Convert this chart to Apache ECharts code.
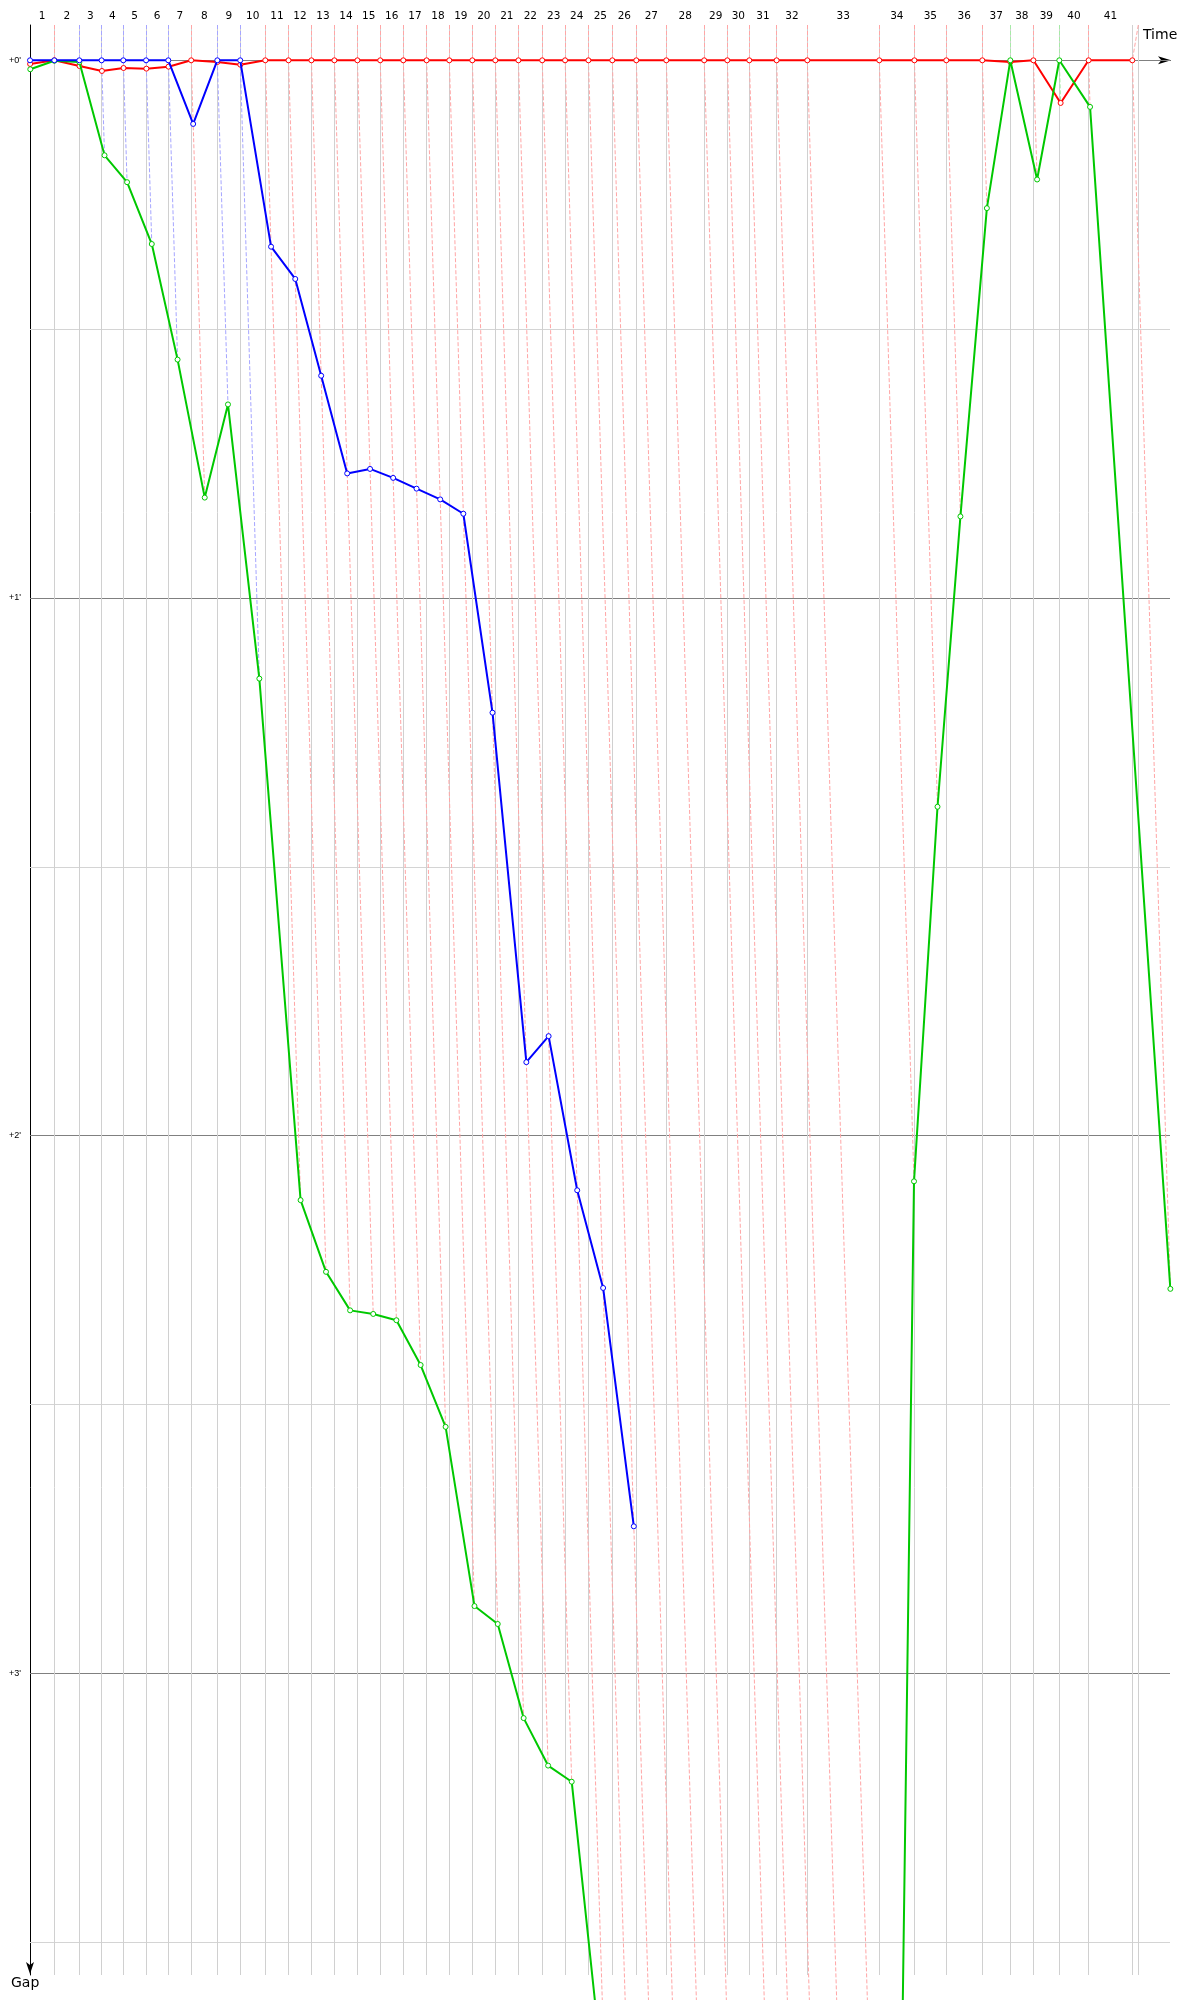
<!DOCTYPE html>
<html><head><meta charset="utf-8">
<script src="https://cdn.jsdelivr.net/npm/echarts@6/dist/echarts.min.js"></script>
<style>html,body{margin:0;padding:0;background:#fff}#c{width:1200px;height:2000px}</style>
</head><body><div id="c"></div>
<script>
// Leader's crossing time (s) at the end of each lap 1..41
const lapEndTimes = [87.6, 177.7, 258.0, 336.2, 418.4, 498.4, 580.9, 675.0, 757.5, 847.9,
  931.5, 1014.1, 1096.9, 1179.8, 1262.0, 1345.2, 1429.2, 1511.0, 1593.9, 1676.8,
  1760.0, 1845.8, 1928.3, 2012.3, 2098.4, 2184.9, 2293.0, 2429.5, 2512.8, 2592.1,
  2690.5, 2801.1, 3060.5, 3187.0, 3302.0, 3431.7, 3532.6, 3615.9, 3709.2, 3814.8, 3972.3];
const finishTime = 3993.9;
const lapLabels = ['1','2','3','4','5','6','7','8','9','10','11','12','13','14','15','16','17','18','19','20',
  '21','22','23','24','25','26','27','28','29','30','31','32','33','34','35','36','37','38','39','40','41'];
// Gaps to leader (s), index 0 = start, index N = end of lap N
const redGaps = [0.41, 0, 0.64, 1.19, 0.86, 0.93, 0.71, 0, 0.19, 0.49,
  0, 0, 0, 0, 0, 0, 0, 0, 0, 0,
  0, 0, 0, 0, 0, 0, 0, 0, 0, 0,
  0, 0, 0, 0, 0, 0, 0, 0.19, 0, 4.76, 0, 0];
const blueGaps = [0, 0, 0, 0, 0, 0, 0, 7.1, 0, 0,
  20.8, 24.4, 35.2, 46.1, 45.6, 46.6, 47.8, 49.0, 50.6, 72.8,
  111.8, 108.9, 126.1, 137.0, 163.6];
const greenGaps = [1.0, 0.05, 0.2, 10.6, 13.6, 20.5, 33.4, 48.8, 38.4, 69.0,
  127.2, 135.2, 139.5, 139.9, 140.6, 145.6, 152.5, 172.5, 174.5, 185.0,
  190.3, 192.1, 227.5, null, null, null, null, null, null, null,
  null, null, 305, 125.1, 83.3, 50.9, 16.5, 0, 13.3, 0, 5.2, 137.1];
const gapMajorTicks = [0, 60, 120, 180];
const gapMinorTicks = [30, 90, 150, 210];

const X_MIN = 0, X_MAX = 4108.1, Y_MIN = -3.94, Y_MAX = 213.67, OFF_CHART = 260;
const T = [0].concat(lapEndTimes);

const drivers = [
  {name: 'red', gaps: redGaps, color: '#ff0000', light: '#ffa6a6'},
  {name: 'blue', gaps: blueGaps, color: '#0000ff', light: '#a6a6ff'},
  {name: 'green', gaps: greenGaps, color: '#00c800', light: '#a6eaa6'}
];

// lap dashed lines (colour of leader), solid grey lap lines
const dashed = [], greyV = [], gridH = [];
for (let n = 1; n < T.length; n++) {
  let end = 0, off = false, leader = null, best = Infinity;
  drivers.forEach(d => {
    if (n < d.gaps.length) {
      const v = d.gaps[n];
      if (v == null) off = true;
      else {
        end = Math.max(end, v);
        if (v < best) { best = v; leader = d; }
      }
    }
  });
  if (off) end = Math.max(end, OFF_CHART);
  const topX = (n === T.length - 1) ? finishTime : T[n];
  dashed.push({coords: [[topX, Y_MIN], [T[n], 0]], lineStyle: {color: leader.light}});
  if (end > 0) dashed.push({coords: [[T[n], 0], [T[n] + end, end]], lineStyle: {color: leader.light}});
  greyV.push({coords: [[T[n], Y_MIN], [T[n], Y_MAX]]});
}
greyV.push({coords: [[finishTime, Y_MIN], [finishTime, Y_MAX]]});
gapMinorTicks.forEach(v => gridH.push({coords: [[X_MIN, v], [X_MAX, v]], lineStyle: {color: '#d4d4d4'}}));
gapMajorTicks.forEach(v => gridH.push({coords: [[X_MIN, v], [X_MAX, v]], lineStyle: {color: '#808080'}}));

const mids = [];
for (let n = 1; n < T.length; n++) mids.push((T[n - 1] + T[n]) / 2);
const midLabel = new Map(mids.map((m, i) => [m.toFixed(4), lapLabels[i]]));

function pts(g) { return g.map((v, i) => v == null ? [T[i], null] : [T[i] + v, v]); }

const order = [drivers[0], drivers[2], drivers[1]];
const lineSeries = order.map((d, k) => ({
  type: 'line', name: d.name, data: pts(d.gaps), clip: false, connectNulls: false,
  symbol: 'circle', symbolSize: 5, showAllSymbol: true, silent: true,
  lineStyle: {color: d.color, width: 2},
  itemStyle: {color: '#ffffff', borderColor: d.color, borderWidth: 1},
  z: 10 + k, animation: false
}));

const chart = echarts.init(document.getElementById('c'), null, {renderer: 'canvas'});
chart.setOption({
  animation: false,
  backgroundColor: '#ffffff',
  grid: {left: 30, right: 30, top: 25, bottom: 25, containLabel: false},
  xAxis: {
    type: 'value', position: 'top', min: X_MIN, max: X_MAX,
    axisLine: {show: true, lineStyle: {color: '#000', width: 1}, symbol: ['none', 'arrow'], symbolSize: [6, 13], symbolOffset: [0, 1]},
    axisTick: {show: false}, splitLine: {show: false},
    axisLabel: {
      customValues: mids, margin: 3, color: '#000', fontFamily: 'DejaVu Sans', fontSize: 10.5,
      formatter: v => midLabel.get(Number(v).toFixed(4)) || ''
    }
  },
  yAxis: {
    type: 'value', inverse: true, min: Y_MIN, max: Y_MAX,
    axisLine: {show: true, lineStyle: {color: '#000', width: 1}, symbol: ['arrow', 'none'], symbolSize: [6, 12], symbolOffset: [1, 0]},
    axisTick: {show: false}, splitLine: {show: false},
    axisLabel: {
      customValues: gapMajorTicks, margin: 9, color: '#000', fontFamily: 'Liberation Sans', fontSize: 9,
      formatter: v => '+' + Math.round(v / 60) + "'"
    }
  },
  graphic: [
    {type: 'text', left: 1143, top: 28, style: {text: 'Time', font: '14px "DejaVu Sans"', fill: '#000'}},
    {type: 'text', left: 11, top: 1976, style: {text: 'Gap', font: '14px "DejaVu Sans"', fill: '#000'}}
  ],
  series: [
    {type: 'lines', coordinateSystem: 'cartesian2d', silent: true, clip: true, z: 1, data: gridH,
      lineStyle: {width: 1, opacity: 1}},
    {type: 'lines', coordinateSystem: 'cartesian2d', silent: true, clip: true, z: 2, data: greyV,
      lineStyle: {width: 1, color: '#d0d0d0', opacity: 1}},
    {type: 'lines', coordinateSystem: 'cartesian2d', silent: true, clip: false, z: 3, data: dashed,
      lineStyle: {width: 1, type: [4, 2], opacity: 1}}
  ].concat(lineSeries)
});
</script></body></html>
